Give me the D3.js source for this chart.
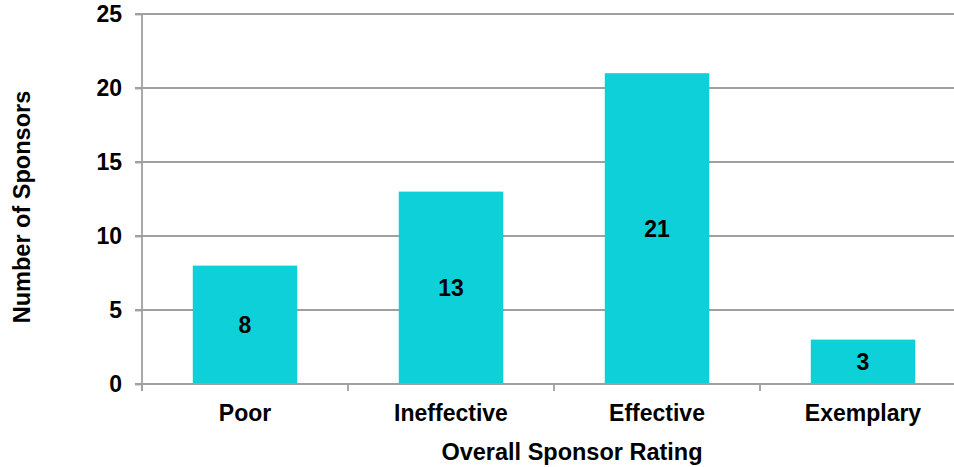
<!DOCTYPE html>
<html>
<head>
<meta charset="utf-8">
<script src="https://cdn.jsdelivr.net/npm/d3@7"></script>
<style>
  html, body { margin: 0; padding: 0; background: #fff; }
  svg { display: block; font-family: "Liberation Sans", Arial, sans-serif; }
</style>
</head>
<body>
<svg id="chart" width="954" height="467"></svg>
<script>
const categories = ["Poor", "Ineffective", "Effective", "Exemplary"];
const counts = [8, 13, 21, 3];
const yTicks = [0, 5, 10, 15, 20, 25];
const xTitle = "Overall Sponsor Rating";
const yTitle = "Number of Sponsors";

(function () {
const svg = d3.select("#chart");
const mLeft = 142, mRight = 966, mTop = 14, mBottom = 384;
const gridColor = "#a0a0a0";
const barColor = "#0dd0d8";

const x = d3.scaleBand().domain(categories).range([mLeft, mRight]).paddingInner(0.493).paddingOuter(0.2465);
const y = d3.scaleLinear().domain([0, 25]).range([mBottom, mTop]);

// gridlines
svg.append("g").selectAll("line").data(yTicks.filter(d => d > 0)).join("line")
  .attr("x1", mLeft - 7).attr("x2", mRight)
  .attr("y1", d => y(d)).attr("y2", d => y(d))
  .attr("stroke", gridColor).attr("stroke-width", 1.8);

// bars
svg.append("g").selectAll("rect").data(categories).join("rect")
  .attr("x", d => x(d))
  .attr("width", x.bandwidth())
  .attr("y", (d, i) => y(counts[i]))
  .attr("height", (d, i) => y(0) - y(counts[i]))
  .attr("fill", barColor);

// y axis
const yAxis = svg.append("g").attr("transform", `translate(${mLeft},0)`)
  .call(d3.axisLeft(y).tickValues(yTicks).tickSize(7).tickPadding(13));
yAxis.select(".domain").attr("stroke", gridColor).attr("stroke-width", 1.8).attr("d", `M0,${mTop}V${mBottom + 7}`);
yAxis.selectAll(".tick line").attr("stroke", gridColor).attr("stroke-width", 1.8);
yAxis.selectAll(".tick text").attr("font-size", 23).attr("font-weight", "bold").attr("fill", "#000")
  .attr("font-family", "Liberation Sans, Arial, sans-serif");

// x axis line
svg.append("line").attr("x1", mLeft - 7).attr("x2", mRight).attr("y1", mBottom).attr("y2", mBottom)
  .attr("stroke", gridColor).attr("stroke-width", 1.8);

// x axis ticks at category boundaries
const step = x.step();
const boundaries = d3.range(categories.length + 1).map(i => mLeft + i * step);
svg.append("g").selectAll("line").data(boundaries).join("line")
  .attr("x1", d => d).attr("x2", d => d)
  .attr("y1", mBottom).attr("y2", mBottom + 7)
  .attr("stroke", gridColor).attr("stroke-width", 1.8);

// x category labels
svg.append("g").selectAll("text").data(categories).join("text")
  .attr("x", d => x(d) + x.bandwidth() / 2)
  .attr("y", 421)
  .attr("text-anchor", "middle")
  .attr("font-size", 23).attr("font-weight", "bold").attr("fill", "#000")
  .text(d => d);

// value labels
svg.append("g").selectAll("text").data(categories).join("text")
  .attr("x", d => x(d) + x.bandwidth() / 2)
  .attr("y", (d, i) => (y(counts[i]) + y(0)) / 2)
  .attr("dy", "0.36em")
  .attr("text-anchor", "middle")
  .attr("font-size", 23).attr("font-weight", "bold").attr("fill", "#000")
  .text((d, i) => counts[i]);

// axis titles
svg.append("text")
  .attr("x", 572).attr("y", 460)
  .attr("text-anchor", "middle")
  .attr("font-size", 23.5).attr("font-weight", "bold").attr("fill", "#000")
  .text(xTitle);

svg.append("text")
  .attr("transform", "translate(30,207) rotate(-90)")
  .attr("text-anchor", "middle")
  .attr("font-size", 23.5).attr("font-weight", "bold").attr("fill", "#000")
  .text(yTitle);
})();
</script>
</body>
</html>
